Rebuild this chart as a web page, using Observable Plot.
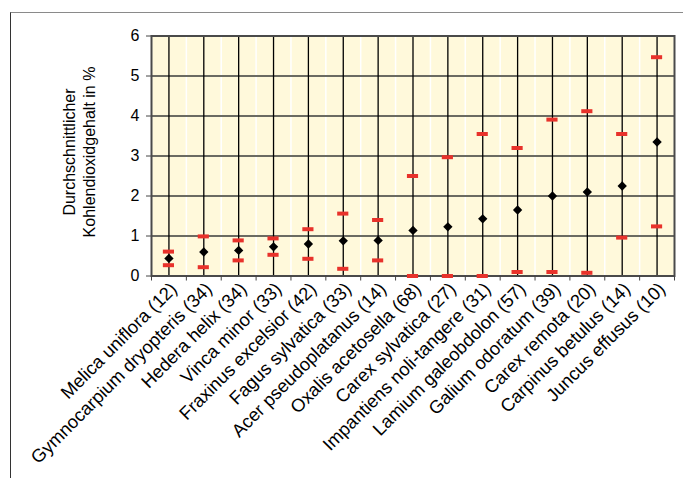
<!DOCTYPE html>
<html>
<head>
<meta charset="utf-8">
<script src="https://cdn.jsdelivr.net/npm/d3@7"></script>
<script src="https://cdn.jsdelivr.net/npm/@observablehq/plot@0.6"></script>
<style>
  html, body { margin: 0; padding: 0; background: #fff; }
  #wrap { position: relative; width: 683px; height: 478px; }
  #edge { position: absolute; left: 10px; top: 12px; right: 0; bottom: 0;
          border-top: 1.5px solid #8a8a8a; border-left: 1.5px solid #333; pointer-events: none; }
  svg { font-family: "Liberation Sans", Arial, sans-serif; }
</style>
</head>
<body>
<div id="wrap"><div id="edge"></div></div>
<script>
// Arten, Anzahl der Messungen, Mittelwert und Streubereich (CO2 in %)
const species = [
  "Melica uniflora", "Gymnocarpium dryopteris", "Hedera helix", "Vinca minor",
  "Fraxinus excelsior", "Fagus sylvatica", "Acer pseudoplatanus", "Oxalis acetosella",
  "Carex sylvatica", "Impantiens noli-tangere", "Lamium galeobdolon", "Galium odoratum",
  "Carex remota", "Carpinus betulus", "Juncus effusus"
];
const counts = [12, 34, 34, 33, 42, 33, 14, 68, 27, 31, 57, 39, 20, 14, 10];
const means  = [0.44, 0.60, 0.64, 0.73, 0.80, 0.88, 0.89, 1.14, 1.23, 1.43, 1.65, 2.00, 2.10, 2.25, 3.35];
const upper  = [0.61, 0.99, 0.89, 0.94, 1.17, 1.56, 1.40, 2.50, 2.97, 3.55, 3.20, 3.91, 4.12, 3.55, 5.47];
const lower  = [0.27, 0.22, 0.39, 0.53, 0.43, 0.18, 0.39, 0.00, 0.00, 0.00, 0.10, 0.10, 0.08, 0.96, 1.24];
const yTicks = [0, 1, 2, 3, 4, 5, 6];

const rows = species.map((s, i) => ({
  i, label: `${s} (${counts[i]})`, mean: means[i], hi: upper[i], lo: lower[i]
}));
const idx = rows.map(d => d.i);
const bounds = d3.range(-0.5, species.length, 1);
const red = "#e8322b";
const half = 0.16;

const chart = Plot.plot({
  width: 683,
  height: 478,
  marginLeft: 151,
  marginRight: 9,
  marginTop: 35.5,
  marginBottom: 202.5,
  style: { fontFamily: "'Liberation Sans', Arial, sans-serif", color: "#000", background: "transparent" },
  x: { type: "linear", domain: [-0.5, species.length - 0.5] },
  y: { domain: [0, 6] },
  marks: [
    Plot.frame({ fill: "#fff9db" }),
    Plot.ruleX(bounds, { stroke: "#ffffff", strokeWidth: 1.5 }),
    Plot.ruleY([1, 2, 3, 4, 5], { stroke: "#6b6b62", strokeWidth: 2 }),
    Plot.ruleX(idx, { stroke: "#000", strokeWidth: 1.3 }),
    Plot.frame({ stroke: "#4a4a4a", strokeWidth: 2 }),
    Plot.axisY({ ticks: yTicks, tickSize: 5, tickPadding: 7, fontSize: 16, label: null, stroke: "#444",
                 tickFormat: d => String(d) }),
    Plot.axisX({ ticks: bounds, tickSize: 5, tickFormat: () => "", label: null, stroke: "#444" }),
    Plot.axisX({ ticks: idx, tickSize: 0, tickPadding: 10, dx: 5, tickRotate: -45, fontSize: 18.3,
                 tickFormat: i => rows[i].label, label: null }),
    Plot.text(["Durchschnittlicher\nKohlendioxidgehalt in %"], {
      frameAnchor: "left", textAnchor: "middle", dx: -73, dy: -4, rotate: -90, fontSize: 16, lineHeight: 1.25
    }),
    Plot.ruleY(rows, { y: "hi", x1: d => d.i - half, x2: d => d.i + half, stroke: red, strokeWidth: 4 }),
    Plot.ruleY(rows, { y: "lo", x1: d => d.i - half, x2: d => d.i + half, stroke: red, strokeWidth: 4 }),
    Plot.dot(rows, { x: "i", y: "mean", symbol: "diamond2", r: 4.2, fill: "#000", stroke: "none" })
  ]
});
document.getElementById("wrap").prepend(chart);
</script>
</body>
</html>
